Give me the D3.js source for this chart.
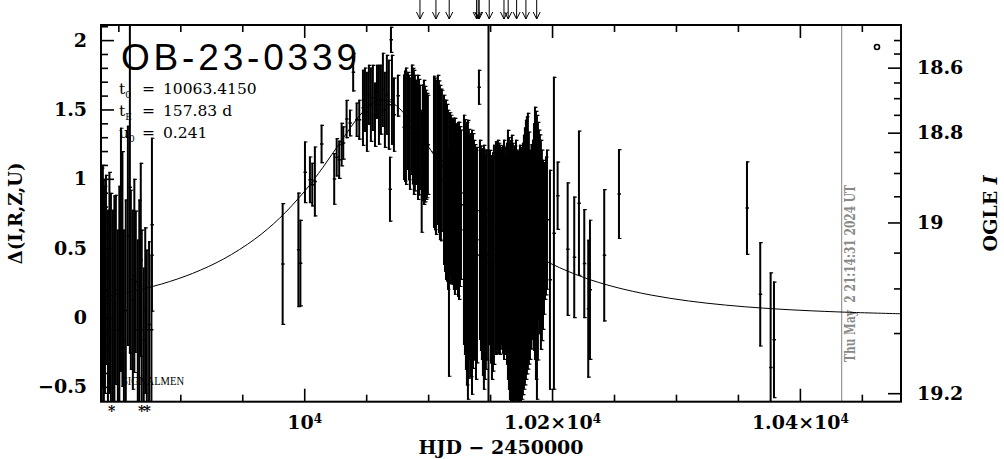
<!DOCTYPE html>
<html><head><meta charset="utf-8">
<script src="https://cdn.jsdelivr.net/npm/d3@7"></script>
<style>body{margin:0;background:#fff}</style>
</head><body>
<svg id="chart" width="1004" height="459"></svg>
<script>
// ---------------- data ----------------
const obsHJD = [
 9836.7,9838.3,9840.0,9841.6,9844.0,9845.6,9848.0,9849.6,9852.1,9854.5,9857.7,9859.3,9860.1,9861.7,9864.1,9865.7,9868.1,9868.9,9870.5,9873.0,9876.7,9877.1,
 9837.5,9839.2,9842.8,9846.8,9850.8,9853.3,9856.0,9862.9,9866.9,9871.7,9874.8,
 9982.6,9995.3,9996.9,10000.6,10004.6,10006.5,10008.6,10014.0,10024.2,10026.2,10028.2,10030.2,10031.5,10034.2,10036.9,10039.5,10042.3,10044.4,
 10047.4,10049.0,10050.6,10052.2,10053.8,10055.4,10057.1,10058.7,10060.3,10061.9,10063.5,10065.1,10066.7,10068.3,10069.2,10070.0,10070.8,10072.4,10075.6,
 10080.5,10082.1,10083.7,10085.3,10086.9,10088.5,10090.2,10091.8,10093.4,10094.8,10096.6,10098.2,10099.8,
 10081.3,10084.5,10087.7,10089.3,10092.6,10095.7,10097.4,10099.0,
 10104.7,10106.3,10107.9,10109.5,10111.1,10112.8,10114.4,10116.0,10116.8,10118.4,10120.0,10121.6,10123.3,10124.9,10126.5,
 10105.5,10108.7,10110.3,10113.6,10115.2,10117.6,10119.2,10120.8,10122.4,10124.1,10125.7,
 10128.9,10130.5,10132.1,10133.7,10135.4,10137.0,10138.6,10141.0,
 10129.7,10131.3,10132.9,10134.6,10136.2,10137.8,10139.4,
 10141.8,10143.4,10145.0,10146.6,10148.7,10149.9,10151.5,10153.1,
 10142.6,10144.2,10145.8,10147.4,10150.7,10152.3,10154.7,10155.5,
 10156.3,10157.9,10159.6,10161.2,10162.8,10164.4,10166.0,10167.6,10169.2,10170.9,10172.5,10174.1,10175.7,10177.3,10178.9,10180.5,10182.2,10184.6,10186.2,10187.8,10189.4,10191.0,10192.7,10194.3,10195.9,10198.3,10201.5,
 10157.1,10158.7,10160.4,10162.0,10163.6,10165.2,10166.8,10168.4,10170.0,10171.7,10173.3,10174.9,10176.5,10178.1,10179.7,10181.3,10183.4,10185.4,10187.0,10188.6,10190.2,10191.8,10193.5,10195.1,
 10204.5,10212.6,10217.9,10221.7,10226.0,10229.2,10230.6,10242.1,10254.0,10357.3,10368.0,10376.4,10379.1
];
const obsDelta = [
 0.236,0.128,0.344,-0.016,0.128,-0.088,0.200,-0.088,0.488,-0.160,0.589,0.940,0.272,0.128,0.258,-0.088,0.416,-0.088,-0.160,-0.088,-0.088,0.669,
 0.30,0.20,0.25,0.10,0.15,0.35,0.05,0.30,0.10,0.05,-0.05,
 0.386,0.488,0.392,1.047,0.993,0.958,0.981,1.251,0.999,1.155,1.137,1.247,1.258,1.431,1.402,1.769,1.426,1.426,
 1.512,1.570,1.483,1.606,1.534,1.584,1.462,1.627,1.534,1.570,1.642,1.497,1.606,1.534,0.925,2.002,1.570,1.462,1.599,
 1.372,1.379,1.418,1.325,1.426,1.335,1.335,1.299,1.299,1.054,1.263,1.245,1.245,
 1.38,1.37,1.38,1.33,1.30,1.26,1.25,1.24,
 1.195,1.155,1.209,1.119,1.130,0.993,0.921,0.849,0.391,0.885,0.831,0.802,0.795,0.769,0.813,
 1.18,1.16,1.10,0.95,0.90,0.86,0.84,0.82,0.80,0.78,0.80,
 0.633,0.506,0.416,0.506,0.398,0.560,0.380,1.660,
 0.58,0.46,0.46,0.45,0.48,0.47,0.45,
 0.560,0.452,0.362,0.398,0.777,0.506,0.344,0.452,
 0.50,0.40,0.38,0.45,0.42,0.40,0.50,0.50,
 0.524,0.488,0.506,0.488,0.470,0.452,0.326,0.326,0.236,0.344,0.200,0.290,0.308,0.398,0.488,0.550,0.452,0.560,0.607,0.434,0.669,0.524,0.524,0.614,0.705,0.272,0.607,
 0.50,0.50,0.49,0.48,0.46,0.39,0.33,0.28,0.29,0.27,0.25,0.30,0.35,0.44,0.52,0.50,0.51,0.58,0.52,0.55,0.60,0.52,0.57,0.66,
 0.878,0.493,0.434,0.824,0.389,0.063,0.200,0.449,0.890,0.789,0.167,-0.360,-0.161
];
const obsErr = [
 0.844,0.865,0.685,0.793,0.771,0.865,0.685,0.721,0.880,0.793,0.793,1.200,0.649,0.649,0.512,0.649,0.699,0.721,0.519,0.577,0.541,0.627,
 0.80,0.75,0.80,0.78,0.80,0.85,0.80,0.70,0.75,0.60,0.60,
 0.439,0.413,0.312,0.222,0.168,0.157,0.252,0.138,0.186,0.138,0.138,0.157,0.120,0.138,0.096,0.139,0.123,0.144,
 0.274,0.231,0.288,0.216,0.267,0.238,0.231,0.195,0.288,0.252,0.267,0.274,0.288,0.324,0.234,0.094,0.324,0.267,0.151,
 0.379,0.422,0.353,0.404,0.397,0.451,0.379,0.451,0.379,0.443,0.451,0.397,0.361,
 0.40,0.38,0.42,0.42,0.42,0.42,0.42,0.38,
 0.548,0.559,0.541,0.559,0.512,0.613,0.649,0.649,0.818,0.577,0.595,0.638,0.595,0.642,0.541,
 0.55,0.55,0.55,0.62,0.64,0.62,0.60,0.62,0.60,0.63,0.58,
 0.829,0.883,1.009,0.811,0.955,0.721,0.829,0.126,
 0.85,0.95,0.90,0.88,0.85,0.78,0.78,
 0.721,0.757,0.883,0.775,1.442,0.703,0.793,0.793,
 0.74,0.82,0.83,0.76,0.75,0.79,0.77,0.76,
 0.757,0.757,0.703,0.793,0.703,0.901,0.919,0.991,0.973,0.937,0.937,0.955,0.901,0.919,0.937,0.926,0.757,0.721,0.912,1.027,0.685,0.757,0.613,0.487,0.505,0.793,1.128,
 0.76,0.73,0.75,0.75,0.80,0.91,0.95,0.98,0.95,0.94,0.95,0.93,0.91,0.93,0.93,0.84,0.74,0.82,0.97,0.86,0.72,0.69,0.55,0.50,
 0.246,0.481,0.438,0.523,0.393,0.497,0.505,0.477,0.324,0.337,0.376,0.685,0.420
];
// model light curve (Paczynski, t0=10063.4150, tE=157.83 d, u0=0.241), sampled
const modelHJD = [9836,9860,9885,9910,9935,9960,9980,10000,10015,10030,10045,10055,10063.4,10072,10082,10095,10110,10125,10140,10160,10180,10200,10225,10250,10280,10310,10340,10370,10400,10440,10481.6];
const modelDelta = [0.1447,0.1853,0.2418,0.3183,0.4223,0.5645,0.7151,0.9072,1.0814,1.2752,1.4592,1.5434,1.5682,1.5424,1.4574,1.2991,1.1043,0.9271,0.7757,0.6118,0.4841,0.3847,0.2907,0.2214,0.1617,0.1195,0.0896,0.0680,0.0522,0.0374,0.0270];
const arrowHJD = [10093.4,10106.3,10117.0,10139.1,10140.4,10141.2,10149.3,10161.2,10164.6,10171.4,10178.9,10187.6];
const starHJD = [9844.6,9868.8,9873.3];
const nowHJD = 10433.7;
const eventName = "OB-23-0339";
const paramSymbols = ["t","t","u"];
const paramSubs = ["0","E","0"];
const paramValues = ["10063.4150","157.83 d","0.241"];
const xMajorTicks = [10000,10200,10400];
const xMajorMantissa = ["","1.02\u00d7","1.04\u00d7"];
const xMinorTicks = [9850,9900,9950,10050,10100,10150,10250,10300,10350,10450];
const yMajorTicks = [-0.5,0,0.5,1,1.5,2];
const yMinorTicks = [-0.4,-0.3,-0.2,-0.1,0.1,0.2,0.3,0.4,0.6,0.7,0.8,0.9,1.1,1.2,1.3,1.4,1.6,1.7,1.8,1.9,2.1];
const magMajorTicks = [18.6,18.8,19.0,19.2];
const magMinorTicks = [18.5,18.55,18.65,18.7,18.75,18.85,18.9,18.95,19.05,19.1,19.15];
const magBase = 19.134, blendFrac = 0.1493;
const dateText = "Thu May  2 21:14:31 2024 UT";
const siteText = "SIGNALMEN";

// ---------------- layout ----------------
const L = 101, R = 901, T = 25, B = 401.7;
const svg = d3.select("#chart");
const x = d3.scaleLinear().domain([9836, 10481.6]).range([L, R]);
const y = d3.scaleLinear().domain([-0.607, 2.109]).range([B, T]);
const magToDelta = m => 2.5 * Math.log10(1 + (Math.pow(10, -0.4 * (m - magBase)) - 1) / blendFrac);
const magAll = magMajorTicks.concat(magMinorTicks).sort(d3.ascending);
const yMag = d3.scaleLinear().domain(magAll).range(magAll.map(m => y(magToDelta(m))));

const FONT = "'DejaVu Serif', serif";
const fmt = d3.format("~g");

svg.append("defs").append("clipPath").attr("id","plot")
  .append("rect").attr("x",L).attr("y",T).attr("width",R-L).attr("height",B-T);

// now line
svg.append("line").attr("x1",x(nowHJD)).attr("x2",x(nowHJD)).attr("y1",T).attr("y2",B)
  .attr("stroke","#999").attr("stroke-width",1.2);
svg.append("text").attr("transform",`translate(${x(nowHJD)+13},362) rotate(-90)`)
  .attr("font-family","'DejaVu Serif', serif").attr("font-weight","bold").attr("font-size",14)
  .attr("fill","#888").attr("textLength",177).attr("lengthAdjust","spacingAndGlyphs")
  .style("white-space","pre").text(dateText);

// model curve
const pl = svg.append("g").attr("clip-path","url(#plot)");
pl.append("path").datum(modelHJD.map((t,i)=>[t,modelDelta[i]]))
  .attr("fill","none").attr("stroke","#000").attr("stroke-width",1)
  .attr("d", d3.line().x(d=>x(d[0])).y(d=>y(d[1])).curve(d3.curveCatmullRom));

// error bars
const pts = obsHJD.map((t,i)=>({t, d:obsDelta[i], e:obsErr[i]}));
const g = pl.selectAll("g.pt").data(pts).join("g").attr("class","pt");
g.append("line").attr("x1",p=>x(p.t)).attr("x2",p=>x(p.t))
  .attr("y1",p=>y(p.d+p.e)).attr("y2",p=>y(p.d-p.e)).attr("stroke","#000").attr("stroke-width",2);
g.append("line").attr("x1",p=>x(p.t)-1).attr("x2",p=>x(p.t)+2.5)
  .attr("y1",p=>y(p.d+p.e)+0.5).attr("y2",p=>y(p.d+p.e)+0.5).attr("stroke","#000").attr("stroke-width",1.2);
g.append("line").attr("x1",p=>x(p.t)-1).attr("x2",p=>x(p.t)+2.5)
  .attr("y1",p=>y(p.d-p.e)-0.5).attr("y2",p=>y(p.d-p.e)-0.5).attr("stroke","#000").attr("stroke-width",1.2);
g.append("line").attr("x1",p=>x(p.t)-1.5).attr("x2",p=>x(p.t)+2)
  .attr("y1",p=>y(p.d)).attr("y2",p=>y(p.d)).attr("stroke","#000").attr("stroke-width",1.5);

// frame
svg.append("rect").attr("x",L).attr("y",T).attr("width",R-L).attr("height",B-T)
  .attr("fill","none").attr("stroke","#000").attr("stroke-width",2);

function styleAxis(sel){
  sel.select(".domain").remove();
  sel.selectAll("line").attr("stroke","#000").attr("stroke-width",1.6);
  sel.attr("font-family",FONT).attr("font-weight","bold").attr("font-size",19).attr("fill","#000");
  sel.selectAll("text").attr("fill","#000");
}
// bottom
const gb = svg.append("g").attr("transform",`translate(0,${B})`)
  .call(d3.axisBottom(x).tickValues(xMajorTicks).tickSize(-13).tickPadding(14).tickSizeOuter(0));
styleAxis(gb);
gb.selectAll("text").each(function(d,i){
  const t = d3.select(this); t.text(null);
  t.append("tspan").text(xMajorMantissa[i] + "10");
  t.append("tspan").attr("font-size",12).attr("dy","-0.5em").text("4");
});
styleAxis(svg.append("g").attr("transform",`translate(0,${B})`)
  .call(d3.axisBottom(x).tickValues(xMinorTicks).tickSize(-7).tickFormat("").tickSizeOuter(0)));
// top
styleAxis(svg.append("g").attr("transform",`translate(0,${T})`)
  .call(d3.axisTop(x).tickValues(xMajorTicks).tickSize(-13).tickFormat("").tickSizeOuter(0)));
styleAxis(svg.append("g").attr("transform",`translate(0,${T})`)
  .call(d3.axisTop(x).tickValues(xMinorTicks).tickSize(-7).tickFormat("").tickSizeOuter(0)));
// left
styleAxis(svg.append("g").attr("transform",`translate(${L},0)`)
  .call(d3.axisLeft(y).tickValues(yMajorTicks).tickSize(-13).tickPadding(14).tickFormat(fmt).tickSizeOuter(0)));
styleAxis(svg.append("g").attr("transform",`translate(${L},0)`)
  .call(d3.axisLeft(y).tickValues(yMinorTicks).tickSize(-7).tickFormat("").tickSizeOuter(0)));
// right (OGLE I)
styleAxis(svg.append("g").attr("transform",`translate(${R},0)`)
  .call(d3.axisRight(yMag).tickValues(magMajorTicks).tickSize(-13).tickPadding(16).tickFormat(fmt).tickSizeOuter(0)));
styleAxis(svg.append("g").attr("transform",`translate(${R},0)`)
  .call(d3.axisRight(yMag).tickValues(magMinorTicks).tickSize(-7).tickFormat("").tickSizeOuter(0)));

// axis titles
svg.append("text").attr("x",(L+R)/2).attr("y",454).attr("text-anchor","middle")
  .attr("font-family",FONT).attr("font-weight","bold").attr("font-size",19)
  .text("HJD \u2212 2450000");
svg.append("text").attr("transform",`translate(22,${(T+B)/2}) rotate(-90)`).attr("text-anchor","middle")
  .attr("font-family",FONT).attr("font-weight","bold").attr("font-size",18)
  .text("\u0394(I,R,Z,U)");
const rl = svg.append("text").attr("transform",`translate(997,${(T+B)/2}) rotate(-90)`).attr("text-anchor","middle")
  .attr("font-family",FONT).attr("font-weight","bold").attr("font-size",19);
rl.append("tspan").text("OGLE ");
rl.append("tspan").attr("font-style","italic").text("I");

// title & parameters
svg.append("text").attr("x",121).attr("y",70).attr("font-family","'Liberation Sans', Arial, sans-serif")
  .attr("font-size",37).attr("textLength",236).attr("lengthAdjust","spacing").text(eventName);
paramSymbols.forEach((s,i)=>{
  const t = svg.append("text").attr("y",94 + i*22)
    .attr("font-family",FONT).attr("font-size",15.5);
  t.append("tspan").attr("x",119).text(s);
  t.append("tspan").attr("font-size",9).attr("dy",4).text(paramSubs[i]);
  t.append("tspan").attr("x",142).attr("dy",-4).text("=");
  t.append("tspan").attr("x",163).text(paramValues[i]);
});
svg.append("text").attr("x",122).attr("y",385).attr("font-family","'Liberation Serif', serif")
  .attr("font-size",12).attr("textLength",62).attr("lengthAdjust","spacingAndGlyphs").text(siteText);

// stars below axis
svg.selectAll("text.star").data(starHJD).join("text").attr("class","star")
  .attr("x",d=>x(d)).attr("y",416).attr("text-anchor","middle")
  .attr("font-family",FONT).attr("font-weight","bold").attr("font-size",14).text("*");

// anomaly arrows
const ag = svg.selectAll("g.arrow").data(arrowHJD).join("g").attr("class","arrow");
ag.append("line").attr("x1",d=>x(d)).attr("x2",d=>x(d)).attr("y1",0).attr("y2",19)
  .attr("stroke","#000").attr("stroke-width",1);
ag.append("path").attr("d",d=>`M${x(d)-3.5},12 L${x(d)},19 L${x(d)+3.5},12`)
  .attr("fill","none").attr("stroke","#000").attr("stroke-width",1);

// OGLE legend symbol
svg.append("circle").attr("cx",877).attr("cy",47).attr("r",2.5)
  .attr("fill","none").attr("stroke","#000").attr("stroke-width",1.6);
</script>
</body></html>
